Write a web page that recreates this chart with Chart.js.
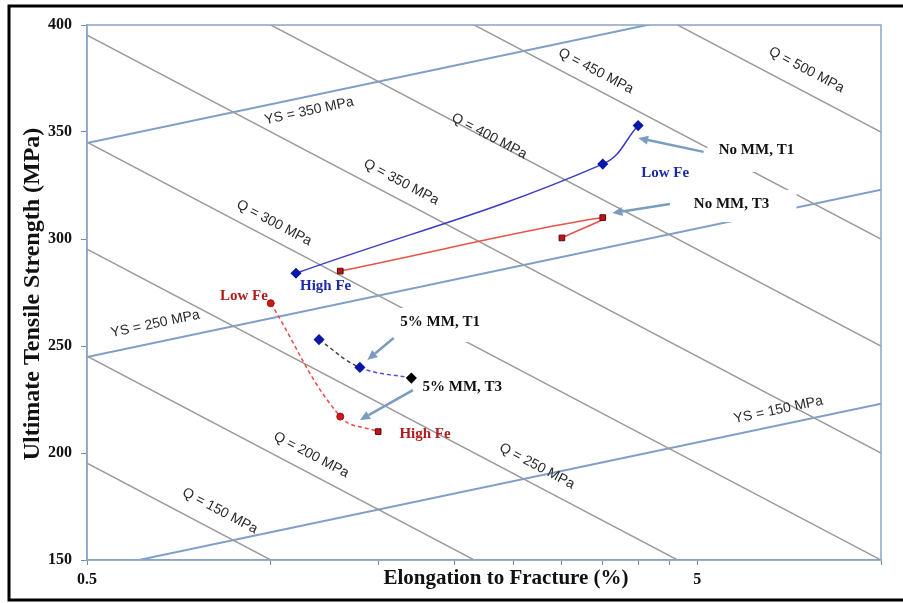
<!DOCTYPE html>
<html>
<head>
<meta charset="utf-8">
<script src="https://cdn.jsdelivr.net/npm/chart.js@4.4.1/dist/chart.umd.min.js"></script>
<style>
  html, body { margin: 0; padding: 0; background: #fff; }
</style>
</head>
<body>
<canvas id="chart" width="903" height="603"></canvas>
<script>
// measured points: elongation (%) and UTS (MPa)
const noMmT1Elong = [1.1, 3.5, 4.0];
const noMmT1Uts = [284, 335, 353];
const noMmT3Elong = [1.3, 3.5, 3.0];
const noMmT3Uts = [285, 310, 300.5];
const mm5T1Elong = [1.2, 1.4, 1.7];
const mm5T1Uts = [253, 240, 235];
const mm5T3Elong = [1.0, 1.3, 1.5];
const mm5T3Uts = [270, 217, 210];

// iso-lines, UTS read where each one meets E = 0.5 % and E = 10 %
const lineElong = [0.5, 10];
const qLevels = [150, 200, 250, 300, 350, 400, 450, 500];
const qUtsAtLow = [195.2, 245.2, 295.2, 345.2, 395.2, 445.2, 495.2, 545.2];
const qUtsAtHigh = [0, 50, 100, 150, 200, 250, 300, 350];
const ysLevels = [150, 250, 350];
const ysUtsAtLow = [144.9, 244.9, 344.9];
const ysUtsAtHigh = [223, 323, 423];

// axis ticks
const yTicks = [150, 200, 250, 300, 350, 400];
const xTicks = [0.5, 1, 1.5, 2, 2.5, 3, 3.5, 4, 4.5, 5, 10];
const xTickLabels = ['0.5', '', '', '', '', '', '', '', '', '5', ''];

// where the iso-line labels sit (data coords)
const qLabelAt = [[0.826, 172.9], [1.165, 199.1], [2.73, 193.9], [1.013, 307.5],
                  [1.636, 326.6], [2.28, 348.1], [3.41, 378.5], [7.55, 379]];
const ysLabelAt = [[6.79, 220.1], [0.647, 260.3], [1.156, 359.8]];

// box = white patch round the text: left, top, right, bottom (px from text centre)
const notes = [
  { text: 'No MM, T1', at: [6.25, 342.1], color: '#111', box: [49, 11, 45, 23] },
  { text: 'No MM, T3', at: [5.69, 316.8], color: '#111', box: [43, 13, 65, 19] },
  { text: '5% MM, T1', at: [1.895, 261.7], color: '#111', box: [40, 13, 40, 21] },
  { text: '5% MM, T3', at: [2.06, 231.3], color: '#111', box: [42, 10, 42, 10] },
  { text: 'High Fe', at: [1.23, 278.5], color: '#1c2aa8' },
  { text: 'Low Fe', at: [4.43, 331.3], color: '#1c2aa8' },
  { text: 'Low Fe', at: [0.904, 273.8], color: '#b01c1c' },
  { text: 'High Fe', at: [1.79, 209.3], color: '#b01c1c' }
];
const arrows = [
  { from: [5.12, 340.7], to: [4.0, 347.2] },
  { from: [4.51, 316.4], to: [3.63, 312.1] },
  { from: [1.59, 253.7], to: [1.44, 243.5] },
  { from: [1.71, 229.4], to: [1.40, 215.4] }
];

const serif = "'Liberation Serif', 'Times New Roman', serif";
const sans = "'Liberation Sans', Arial, sans-serif";

function pairs(xs, ys) {
  return xs.map((x, i) => ({ x: x, y: ys[i] }));
}

const datasets = [
  {
    data: pairs(noMmT1Elong, noMmT1Uts),
    borderColor: '#3b3bc4', borderWidth: 1.5, tension: 0.4,
    pointStyle: 'rectRot', pointRadius: 4.5,
    pointBackgroundColor: '#0a18a8', pointBorderColor: '#0a18a8'
  },
  {
    data: pairs(noMmT3Elong, noMmT3Uts),
    borderColor: '#e8524a', borderWidth: 1.5, tension: 0.4,
    pointStyle: 'rect', pointRadius: 4,
    pointBackgroundColor: '#c0141c', pointBorderColor: '#5a0a0a', pointBorderWidth: 1
  },
  {
    data: pairs(mm5T1Elong, mm5T1Uts),
    borderColor: '#5050d8', borderWidth: 1.5, borderDash: [4, 3], tension: 0.4,
    segment: { borderColor: c => c.p0DataIndex === 0 ? '#444' : '#5050d8' },
    pointStyle: 'rectRot', pointRadius: 4.5,
    pointBackgroundColor: ['#0a18a8', '#0a18a8', '#000'],
    pointBorderColor: ['#0a18a8', '#0a18a8', '#000']
  },
  {
    data: pairs(mm5T3Elong, mm5T3Uts),
    borderColor: '#f04848', borderWidth: 1.5, borderDash: [4, 3], tension: 0.4,
    pointStyle: ['circle', 'circle', 'rect'], pointRadius: [3.5, 3.5, 4],
    pointBackgroundColor: ['#d01818', '#d01818', '#c0141c'],
    pointBorderColor: ['#a01010', '#a01010', '#5a0a0a'], pointBorderWidth: 1
  }
];

qLevels.forEach((q, i) => {
  datasets.push({
    data: pairs(lineElong, [qUtsAtLow[i], qUtsAtHigh[i]]),
    borderColor: '#9a9a9a', borderWidth: 1.5, pointRadius: 0, order: 2
  });
});
ysLevels.forEach((s, i) => {
  datasets.push({
    data: pairs(lineElong, [ysUtsAtLow[i], ysUtsAtHigh[i]]),
    borderColor: '#7f9fc8', borderWidth: 2, pointRadius: 0, order: 2
  });
});

function lineLabel(ctx, xs, ys, text, at, lo, hi) {
  const ang = Math.atan2(ys.getPixelForValue(hi) - ys.getPixelForValue(lo),
                         xs.getPixelForValue(10) - xs.getPixelForValue(0.5));
  ctx.save();
  ctx.translate(xs.getPixelForValue(at[0]), ys.getPixelForValue(at[1]));
  ctx.rotate(ang);
  ctx.fillStyle = '#2a2a2a';
  ctx.font = '14px ' + sans;
  ctx.textAlign = 'center';
  ctx.textBaseline = 'middle';
  ctx.fillText(text, 0, 0);
  ctx.restore();
}

const decor = {
  id: 'decor',
  beforeDraw(chart) {
    const ctx = chart.ctx;
    ctx.save();
    ctx.fillStyle = '#fff';
    ctx.fillRect(0, 0, chart.width, chart.height);
    ctx.restore();
  },
  afterDatasetsDraw(chart) {
    const ctx = chart.ctx;
    const xs = chart.scales.x, ys = chart.scales.y;
    qLevels.forEach((q, i) => lineLabel(ctx, xs, ys, 'Q = ' + q + ' MPa', qLabelAt[i], qUtsAtLow[i], qUtsAtHigh[i]));
    ysLevels.forEach((s, i) => lineLabel(ctx, xs, ys, 'YS = ' + s + ' MPa', ysLabelAt[i], ysUtsAtLow[i], ysUtsAtHigh[i]));

    ctx.save();
    ctx.font = 'bold 15px ' + serif;
    ctx.textAlign = 'center';
    ctx.textBaseline = 'middle';
    notes.forEach(n => {
      const px = xs.getPixelForValue(n.at[0]), py = ys.getPixelForValue(n.at[1]);
      if (n.box) {
        const b = n.box;
        ctx.fillStyle = '#fff';
        ctx.fillRect(px - b[0], py - b[1], b[0] + b[2], b[1] + b[3]);
      }
      ctx.fillStyle = n.color;
      ctx.fillText(n.text, px, py + 1);
    });

    // arrows
    ctx.strokeStyle = '#7a9cc0';
    ctx.fillStyle = '#7a9cc0';
    ctx.lineWidth = 2.5;
    arrows.forEach(a => {
      const x0 = xs.getPixelForValue(a.from[0]), y0 = ys.getPixelForValue(a.from[1]);
      const x1 = xs.getPixelForValue(a.to[0]), y1 = ys.getPixelForValue(a.to[1]);
      const ang = Math.atan2(y1 - y0, x1 - x0);
      const hl = 10, hw = 4.5;
      const bx = x1 - hl * Math.cos(ang), by = y1 - hl * Math.sin(ang);
      ctx.beginPath();
      ctx.moveTo(x0, y0);
      ctx.lineTo(bx, by);
      ctx.stroke();
      ctx.beginPath();
      ctx.moveTo(x1, y1);
      ctx.lineTo(bx + hw * Math.sin(ang), by - hw * Math.cos(ang));
      ctx.lineTo(bx - hw * Math.sin(ang), by + hw * Math.cos(ang));
      ctx.closePath();
      ctx.fill();
    });
    ctx.restore();
  },
  afterDraw(chart) {
    const ctx = chart.ctx;
    const a = chart.chartArea;
    ctx.save();
    ctx.strokeStyle = '#8aa4c4';
    ctx.lineWidth = 1.5;
    ctx.strokeRect(a.left, a.top, a.right - a.left, a.bottom - a.top);

    // outer frame
    ctx.strokeStyle = '#000';
    ctx.lineWidth = 3;
    ctx.strokeRect(9, 6, 905, 594);

    // axis titles
    ctx.fillStyle = '#111';
    ctx.textAlign = 'center';
    ctx.textBaseline = 'middle';
    ctx.font = 'bold 21px ' + serif;
    ctx.fillText('Elongation to Fracture (%)', 506, 579);
    ctx.translate(33, 294);
    ctx.rotate(-Math.PI / 2);
    ctx.font = 'bold 24px ' + serif;
    ctx.fillText('Ultimate Tensile Strength (MPa)', 0, 0);
    ctx.restore();
  }
};

new Chart(document.getElementById('chart'), {
  type: 'line',
  data: { datasets: datasets },
  options: {
    responsive: false,
    animation: false,
    layout: { padding: { top: 25, right: 22, left: 0, bottom: 0 } },
    plugins: { legend: { display: false }, tooltip: { enabled: false } },
    scales: {
      x: {
        type: 'logarithmic',
        min: 0.5,
        max: 10,
        afterBuildTicks: s => { s.ticks = xTicks.map(v => ({ value: v })); },
        afterFit: s => { s.height = 43; },
        ticks: {
          autoSkip: false, maxRotation: 0, padding: 5, color: '#111',
          font: { family: serif, size: 16, weight: 'bold' },
          callback: (v, i) => xTickLabels[i]
        },
        grid: { drawOnChartArea: false, tickLength: 5, color: '#6f8fb5' },
        border: { color: '#8aa4c4', width: 1.5 }
      },
      y: {
        min: 150,
        max: 400,
        afterBuildTicks: s => { s.ticks = yTicks.map(v => ({ value: v })); },
        afterFit: s => { s.width = 87; },
        ticks: {
          padding: 9, color: '#111',
          font: { family: serif, size: 16, weight: 'bold' }
        },
        grid: { drawOnChartArea: false, tickLength: 6, color: '#6f8fb5' },
        border: { color: '#8aa4c4', width: 1.5 }
      }
    }
  },
  plugins: [decor]
});
</script>
</body>
</html>
